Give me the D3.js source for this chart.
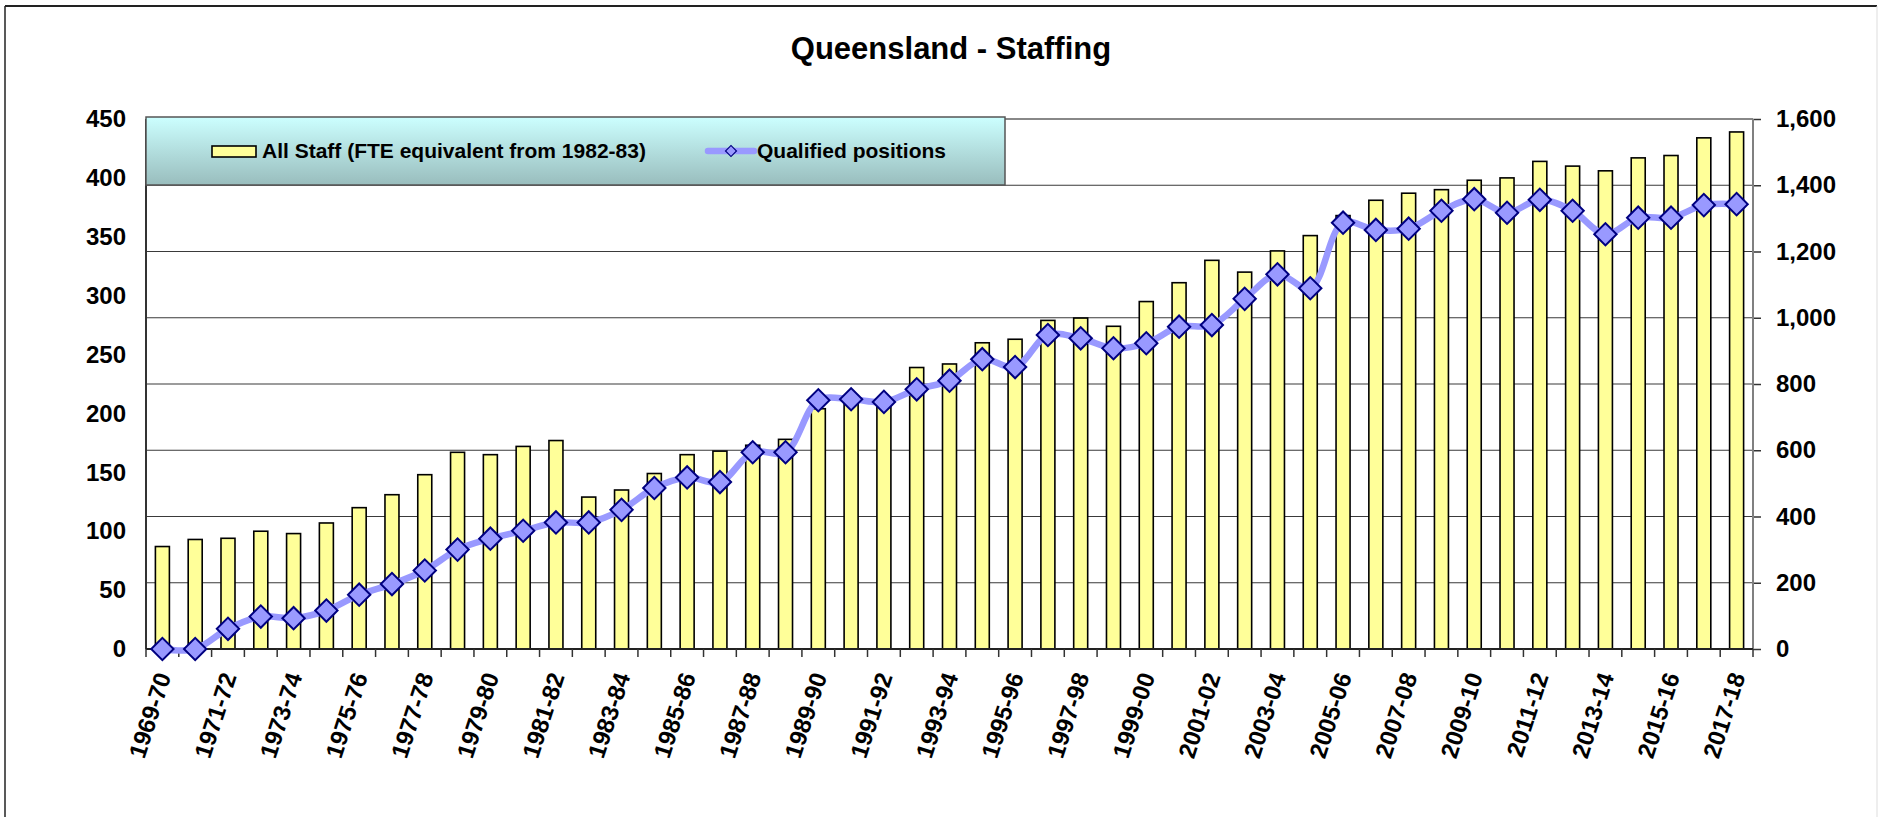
<!DOCTYPE html>
<html>
<head>
<meta charset="utf-8">
<script src="https://cdn.jsdelivr.net/npm/d3@7"></script>
<style>
  body { margin: 0; background: #fff; }
  svg { display: block; font-family: "Liberation Sans", Arial, sans-serif; }
</style>
</head>
<body>
<div id="chart"></div>
<script>
const categories = ["1969-70", "1970-71", "1971-72", "1972-73", "1973-74", "1974-75", "1975-76",
    "1976-77", "1977-78", "1978-79", "1979-80", "1980-81", "1981-82", "1982-83", "1983-84",
    "1984-85", "1985-86", "1986-87", "1987-88", "1988-89", "1989-90", "1990-91", "1991-92",
    "1992-93", "1993-94", "1994-95", "1995-96", "1996-97", "1997-98", "1998-99", "1999-00",
    "2000-01", "2001-02", "2002-03", "2003-04", "2004-05", "2005-06", "2006-07", "2007-08",
    "2008-09", "2009-10", "2010-11", "2011-12", "2012-13", "2013-14", "2014-15", "2015-16",
    "2016-17", "2017-18"];

// All Staff (left axis)
const allStaff = [87, 93, 94, 100, 98, 107, 120, 131, 148, 167, 165, 172, 177, 129, 135,
    149, 165, 168, 173, 178, 204, 210, 209, 239, 242, 260, 263, 279, 281, 274, 295,
    311, 330, 320, 338, 351, 368, 381, 387, 390, 398, 400, 414, 410, 406, 417, 419,
    434, 439];

// Qualified positions (right axis)
const qualified = [0, 0, 61, 98, 93, 116, 164, 196, 237, 300, 333, 357, 382, 382, 420,
    486, 518, 504, 594, 594, 751, 754, 746, 784, 810, 875, 851, 948, 938, 908, 923,
    973, 978, 1057, 1131, 1089, 1287, 1265, 1269, 1323, 1358, 1317, 1356, 1323, 1252, 1302, 1302,
    1340, 1343];

const leftTicks = [0, 50, 100, 150, 200, 250, 300, 350, 400, 450];
const rightTicks = [0, 200, 400, 600, 800, 1000, 1200, 1400, 1600];

const seriesNames = ["All Staff (FTE equivalent from 1982-83)", "Qualified positions"];
const title = "Queensland - Staffing";

const width = 1879, height = 817;
const plotLeft = 146, plotRight = 1753, plotTop = 119, plotBottom = 649;

const svg = d3.select("#chart").append("svg")
    .attr("width", width)
    .attr("height", height);

// outer frame
svg.append("line").attr("x1", 5).attr("x2", 1877).attr("y1", 6).attr("y2", 6)
    .attr("stroke", "#222").attr("stroke-width", 2);
svg.append("line").attr("x1", 5).attr("x2", 5).attr("y1", 6).attr("y2", height)
    .attr("stroke", "#222").attr("stroke-width", 1.5);
svg.append("line").attr("x1", 1877).attr("x2", 1877).attr("y1", 6).attr("y2", height)
    .attr("stroke", "#ddd").attr("stroke-width", 1);

svg.append("text")
    .attr("x", 951).attr("y", 59)
    .attr("text-anchor", "middle")
    .attr("font-size", "31px").attr("font-weight", "bold")
    .text(title);

const x = d3.scaleBand().domain(categories).range([plotLeft, plotRight]).padding(0);
const yL = d3.scaleLinear().domain([0, 450]).range([plotBottom, plotTop]);
const yR = d3.scaleLinear().domain([0, 1600]).range([plotBottom, plotTop]);
const bw = x.bandwidth();

// gridlines (from right axis)
svg.append("g").selectAll("line")
    .data(rightTicks.filter(d => d > 0 && d < 1600))
    .join("line")
    .attr("x1", plotLeft).attr("x2", plotRight)
    .attr("y1", d => yR(d)).attr("y2", d => yR(d))
    .attr("stroke", "#3a3a3a").attr("stroke-width", 1.2);

// plot top border
svg.append("line").attr("x1", plotLeft).attr("x2", plotRight)
    .attr("y1", yR(1600)).attr("y2", yR(1600))
    .attr("stroke", "#888").attr("stroke-width", 2);

// bars
svg.append("g").selectAll("rect")
    .data(allStaff)
    .join("rect")
    .attr("x", (d, i) => x(categories[i]) + bw / 2 - 7)
    .attr("width", 14)
    .attr("y", d => yL(d))
    .attr("height", d => yL(0) - yL(d))
    .attr("fill", "#ffff99")
    .attr("stroke", "#000")
    .attr("stroke-width", 1.6);

// left axis
const gL = svg.append("g").attr("transform", `translate(${plotLeft},0)`)
    .call(d3.axisLeft(yL).tickValues(leftTicks).tickSize(0).tickPadding(20));
gL.select(".domain").remove();
gL.selectAll("text").attr("font-size", "24px").attr("font-weight", "bold")
    .attr("fill", "#000").attr("font-family", "Liberation Sans, Arial, sans-serif");
svg.append("line").attr("x1", plotLeft).attr("x2", plotLeft)
    .attr("y1", plotTop).attr("y2", plotBottom)
    .attr("stroke", "#333").attr("stroke-width", 2);

// right axis
const gR = svg.append("g").attr("transform", `translate(${plotRight},0)`)
    .call(d3.axisRight(yR).tickValues(rightTicks).tickSize(8).tickPadding(15).tickFormat(d3.format(",")));
gR.select(".domain").remove();
gR.selectAll(".tick line").attr("stroke", "#333").attr("stroke-width", 1.5);
gR.selectAll("text").attr("font-size", "24px").attr("font-weight", "bold")
    .attr("fill", "#000").attr("font-family", "Liberation Sans, Arial, sans-serif");
svg.append("line").attr("x1", plotRight).attr("x2", plotRight)
    .attr("y1", plotTop).attr("y2", plotBottom)
    .attr("stroke", "#808080").attr("stroke-width", 2);

// x axis
svg.append("line").attr("x1", plotLeft).attr("x2", plotRight)
    .attr("y1", plotBottom).attr("y2", plotBottom)
    .attr("stroke", "#222").attr("stroke-width", 2);
const bounds = categories.map(c => x(c)).concat([x(categories[categories.length - 1]) + bw]);
svg.append("g").selectAll("line")
    .data(bounds)
    .join("line")
    .attr("x1", d => d).attr("x2", d => d)
    .attr("y1", plotBottom).attr("y2", plotBottom + 8)
    .attr("stroke", "#333").attr("stroke-width", 1.5);

svg.append("g").selectAll("text")
    .data(categories.filter((c, i) => i % 2 === 0))
    .join("text")
    .attr("transform", d => `translate(${x(d) + bw / 2 + 9},676) rotate(-72)`)
    .attr("text-anchor", "end")
    .attr("font-size", "24px").attr("font-weight", "bold")
    .text(d => d);

// qualified positions line
const line = d3.line()
    .x((d, i) => x(categories[i]) + bw / 2)
    .y(d => yR(d))
    .curve(d3.curveCatmullRom.alpha(0.5));

svg.append("path")
    .datum(qualified)
    .attr("d", line)
    .attr("fill", "none")
    .attr("stroke", "#9999ff")
    .attr("stroke-width", 6.5)
    .attr("stroke-linejoin", "round");

const diamond = d3.symbol().type(d3.symbolSquare).size(250);
svg.append("g").selectAll("path")
    .data(qualified)
    .join("path")
    .attr("d", diamond)
    .attr("transform", (d, i) => `translate(${x(categories[i]) + bw / 2},${yR(d)}) rotate(45)`)
    .attr("fill", "#9999ff")
    .attr("stroke", "#000080")
    .attr("stroke-width", 2);

// legend
const defs = svg.append("defs");
const grad = defs.append("linearGradient").attr("id", "legGrad")
    .attr("x1", 0).attr("y1", 0).attr("x2", 0).attr("y2", 1);
grad.append("stop").attr("offset", "0%").attr("stop-color", "#ccffff");
grad.append("stop").attr("offset", "100%").attr("stop-color", "#99bdbd");

const leg = svg.append("g");
leg.append("rect")
    .attr("x", plotLeft).attr("y", 117)
    .attr("width", 1005 - plotLeft).attr("height", 68)
    .attr("fill", "url(#legGrad)")
    .attr("stroke", "#555").attr("stroke-width", 1.5);

leg.append("rect")
    .attr("x", 212).attr("y", 146).attr("width", 44).attr("height", 11)
    .attr("fill", "#ffff99").attr("stroke", "#000").attr("stroke-width", 1.6);
leg.append("text")
    .attr("x", 262).attr("y", 158)
    .attr("font-size", "21px").attr("font-weight", "bold")
    .text(seriesNames[0]);

leg.append("line")
    .attr("x1", 708).attr("x2", 754).attr("y1", 151).attr("y2", 151)
    .attr("stroke", "#9999ff").attr("stroke-width", 6.5).attr("stroke-linecap", "round");
leg.append("path")
    .attr("d", d3.symbol().type(d3.symbolSquare).size(60))
    .attr("transform", "translate(731,151) rotate(45)")
    .attr("fill", "#9999ff").attr("stroke", "#000080").attr("stroke-width", 1.2);
leg.append("text")
    .attr("x", 757).attr("y", 158)
    .attr("font-size", "21px").attr("font-weight", "bold")
    .text(seriesNames[1]);
</script>
</body>
</html>
